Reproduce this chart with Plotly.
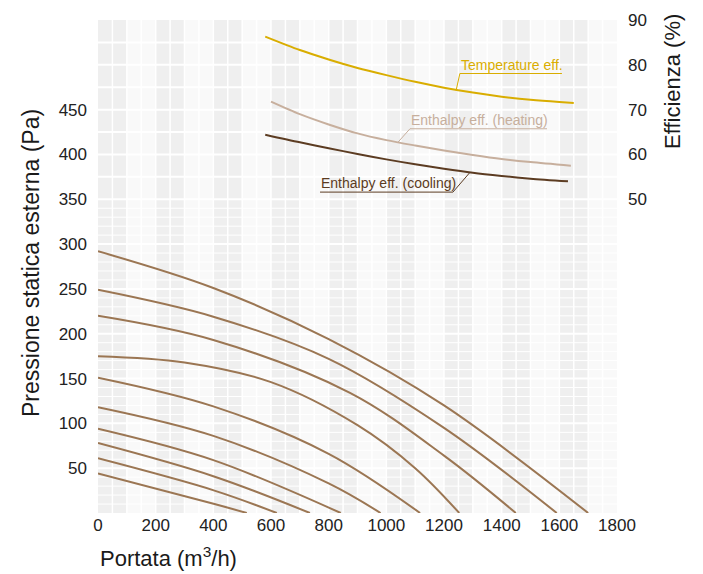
import plotly.graph_objects as go

# curve caratteristiche: portata (m3/h) -> pressione statica esterna (Pa)
c1_flow = [0, 400, 800, 1200, 1700]
c1_pa = [292, 251, 194, 120, 0]
c2_flow = [0, 400, 800, 1200, 1591]
c2_pa = [249, 219, 172, 95, 0]
c3_flow = [0, 400, 874, 1200, 1449]
c3_pa = [220, 193, 134, 64, 0]
c4_flow = [0, 300, 600, 900, 1100, 1253]
c4_pa = [175, 168, 146, 98, 50, 0]
c5_flow = [0, 400, 800, 1117]
c5_pa = [151, 119, 66, 0]
c6_flow = [0, 400, 800, 980]
c6_pa = [118, 86, 33, 0]
c7_flow = [0, 400, 842]
c7_pa = [94, 59, 0]
c8_flow = [0, 400, 735]
c8_pa = [78, 41, 0]
c9_flow = [0, 404, 620]
c9_pa = [61, 25, 0]
c10_flow = [0, 404, 516]
c10_pa = [44, 10, 0]

# efficienze (%)
temp_flow = [580, 700, 800, 900, 1000, 1100, 1200, 1300, 1400, 1500, 1600, 1650]
temp_eff = [86.3, 83.3, 81.2, 79.3, 77.7, 76.2, 74.9, 73.8, 72.9, 72.2, 71.7, 71.5]
heat_flow = [600, 700, 800, 900, 1000, 1100, 1200, 1300, 1400, 1500, 1640]
heat_eff = [71.8, 69.0, 66.7, 64.7, 63.2, 62.0, 60.9, 59.9, 59.0, 58.3, 57.5]
cool_flow = [580, 700, 800, 900, 1000, 1100, 1200, 1300, 1400, 1500, 1630]
cool_eff = [64.4, 62.7, 61.4, 60.1, 58.9, 57.8, 56.8, 55.9, 55.2, 54.6, 54.0]

x_ticks = list(range(0, 1801, 200))
pa_ticks = list(range(50, 451, 50))
eff_ticks = [50, 60, 70, 80, 90]

curve_color = "#9b7653"
temp_color = "#d9ad00"
heat_color = "#c7af9d"
cool_color = "#5c3c22"
font = "Liberation Sans, Arial, sans-serif"

fig = go.Figure()

pressure_curves = [(c1_flow, c1_pa), (c2_flow, c2_pa), (c3_flow, c3_pa), (c4_flow, c4_pa),
                   (c5_flow, c5_pa), (c6_flow, c6_pa), (c7_flow, c7_pa), (c8_flow, c8_pa),
                   (c9_flow, c9_pa), (c10_flow, c10_pa)]
for fx, fy in pressure_curves:
    fig.add_trace(go.Scatter(x=fx, y=fy, mode="lines", line=dict(color=curve_color, width=2, shape="spline", smoothing=1),
                             hoverinfo="skip", showlegend=False))

for fx, fy, col in [(temp_flow, temp_eff, temp_color), (heat_flow, heat_eff, heat_color), (cool_flow, cool_eff, cool_color)]:
    fig.add_trace(go.Scatter(x=fx, y=fy, yaxis="y2", mode="lines",
                             line=dict(color=col, width=2, shape="spline", smoothing=0.8),
                             hoverinfo="skip", showlegend=False))

# background: alternating vertical bands + white grid
shapes = []
for k in range(18):
    if k % 2 == 0:
        shapes.append(dict(type="rect", xref="x", yref="y", x0=k * 100, x1=(k + 1) * 100, y0=0, y1=550,
                           fillcolor="#efefef", line_width=0, layer="below"))
for v in range(50, 1800, 50):
    shapes.append(dict(type="line", xref="x", yref="y", x0=v, x1=v, y0=0, y1=550,
                       line=dict(color="white", width=1.5), layer="below"))
for p in range(10, 350, 10):
    shapes.append(dict(type="line", xref="x", yref="y", x0=0, x1=1800, y0=p, y1=p,
                       line=dict(color="white", width=2 if p % 50 == 0 else 1), layer="below"))
for e in range(50, 90, 5):
    shapes.append(dict(type="line", xref="x", yref="y2", x0=0, x1=1800, y0=e, y1=e,
                       line=dict(color="white", width=2), layer="below"))

# label leaders
def leader(x_text0, x_text1, y_text, x_pt, y_pt, col):
    shapes.append(dict(type="line", xref="x", yref="y2", x0=x_text0, x1=x_text1, y0=y_text, y1=y_text,
                       line=dict(color=col, width=1)))
    shapes.append(dict(type="line", xref="x", yref="y2", x0=x_pt[0], x1=x_pt[1], y0=y_pt[0], y1=y_pt[1],
                       line=dict(color=col, width=1)))

leader(1255, 1609, 78.06, (1255, 1242), (78.06, 74.3), temp_color)
leader(1082, 1557, 65.73, (1082, 1040), (65.73, 62.7), heat_color)
leader(770, 1231, 51.6, (1231, 1290), (51.6, 56.0), cool_color)

annotations = [
    dict(text="Temperature eff.", x=1255, y=78.06, xref="x", yref="y2", xanchor="left", yanchor="bottom",
         showarrow=False, font=dict(family=font, size=14, color=temp_color), borderpad=0),
    dict(text="Enthalpy eff. (heating)", x=1082, y=65.73, xref="x", yref="y2", xanchor="left", yanchor="bottom",
         showarrow=False, font=dict(family=font, size=14, color=heat_color), borderpad=0),
    dict(text="Enthalpy eff. (cooling)", x=770, y=51.6, xref="x", yref="y2", xanchor="left", yanchor="bottom",
         showarrow=False, font=dict(family=font, size=14, color=cool_color), borderpad=0),
    dict(text="Pressione statica esterna (Pa)", x=(31 - 98) / 519, y=(513 - 263) / 493, xref="paper", yref="paper",
         textangle=-90, showarrow=False, xanchor="center", yanchor="middle",
         font=dict(family=font, size=23, color="#1a1a1a")),
    dict(text="Portata (m<sup>3</sup>/h)", x=0, y=(513 - 557) / 493, xref="paper", yref="paper",
         showarrow=False, xanchor="left", yanchor="middle",
         font=dict(family=font, size=22, color="#1a1a1a")),
    dict(text="Efficienza (%)", x=(673 - 98) / 519, y=(513 - 82) / 493, xref="paper", yref="paper",
         textangle=-90, showarrow=False, xanchor="center", yanchor="middle",
         font=dict(family=font, size=22, color="#1a1a1a")),
]

fig.update_layout(
    width=695, height=566, autosize=False,
    margin=dict(l=90, r=86, t=12, b=61),
    paper_bgcolor="white",
    plot_bgcolor="#f9f9f9",
    shapes=shapes,
    annotations=annotations,
    font=dict(family=font, size=17, color="#222222"),
    xaxis=dict(range=[0, 1800], tickvals=x_ticks, showgrid=False, zeroline=False, showline=False,
               ticks="", tickfont=dict(size=17), automargin=False),
    yaxis=dict(range=[0, 550], tickvals=pa_ticks, showgrid=False, zeroline=False, showline=False,
               ticks="", ticklabelstandoff=10, tickfont=dict(size=17), automargin=False),
    yaxis2=dict(range=[-20, 90], tickvals=eff_ticks, overlaying="y", side="right", showgrid=False,
                zeroline=False, showline=False, ticks="", ticklabelstandoff=10, tickfont=dict(size=17),
                automargin=False),
)

fig.write_html("out.html")
